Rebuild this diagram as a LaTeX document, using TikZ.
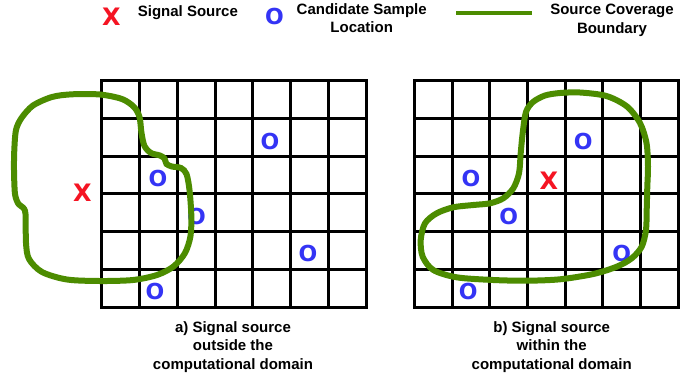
\documentclass[tikz,border=0pt]{standalone}
\usepackage{fontspec}
\setmainfont{Liberation Sans}
\newfontfamily\markfont{DejaVu Sans}
\definecolor{srcred}{RGB}{245,20,35}
\definecolor{sampblue}{RGB}{52,52,245}
\definecolor{covgreen}{RGB}{76,140,0}
\begin{document}
\begin{tikzpicture}[x=1pt,y=-1pt,
  gridline/.style={line width=3pt, line cap=rect},
  boundary/.style={draw=covgreen, line width=6pt},
  srcmark/.style={text=srcred, font=\markfont\bfseries\fontsize{24}{24}\selectfont, inner sep=0},
  sampmark/.style={text=sampblue, font=\markfont\bfseries\fontsize{22}{22}\selectfont, inner sep=0},
  captext/.style={font=\bfseries\fontsize{15}{18.5}\selectfont, align=center, inner sep=0},
]
\fill[white] (0,0) rectangle (697,376);
\useasboundingbox (0,0) rectangle (697,376);

% ---- legend ----
\node[srcmark] (legx) at (111.3,16.7) {X};
\node[captext, anchor=base west] (legxt) at (137.7,16.7) {Signal Source};
\node[sampmark] (lego) at (274.5,16) {O};
\node[captext, anchor=north] (legot) at (361.7,3) {Candidate Sample\\Location};
\coordinate (lgA) at (456,13);
\coordinate (lgB) at (532,13);
\draw[covgreen, line width=4pt] (lgA) -- (lgB);
\node[captext, anchor=north] (leglt) at (612,4) {Source Coverage\\Boundary};

% ---- left grid: source outside the domain ----
\foreach \i in {0,...,7} \draw[gridline] ({101.7+37.8*\i},80.5) -- ({101.7+37.8*\i},307.3);
\foreach \j in {0,...,6} \draw[gridline] (101.7,{80.5+37.8*\j}) -- (366.3,{80.5+37.8*\j});

\node[sampmark] (la1) at (270,141) {O};
\node[sampmark] (la2) at (158,178) {O};
\node[sampmark] (la3) at (196.5,216) {O};
\node[sampmark] (la4) at (308,253) {O};
\node[sampmark] (la5) at (155,291) {O};
\node[srcmark] (lsrc) at (82.3,193) {X};

\draw[boundary] plot[smooth cycle, tension=0.5] coordinates {
  (72,94.3) (100,94.5) (122,99) (134,107) (139.5,117) (141.5,133)
  (144.5,146) (151,153) (160,155.5) (164.5,158.5) (166.5,164) (172,166.5)
  (181,168) (186.5,174) (189.5,190) (191.3,215) (190.5,236) (185,253)
  (173.5,266.5) (157,275) (133,280) (100,281) (67,279.5) (42,272) (29,259)
  (26,243) (25.5,214) (23,207.5) (18.5,204) (15,194) (14,170) (14.3,150)
  (16,130) (21.5,118) (33,105.5) (52,97)};

\node[captext, anchor=north] (capa) at (233,321) {a) Signal source\\outside the\\computational domain};

% ---- right grid: source within the domain ----
\foreach \i in {0,...,7} \draw[gridline] ({414.3+37.7*\i},80.5) -- ({414.3+37.7*\i},307.3);
\foreach \j in {0,...,6} \draw[gridline] (414.3,{80.5+37.8*\j}) -- (678.2,{80.5+37.8*\j});

\node[sampmark] (rb1) at (583.3,141) {O};
\node[sampmark] (rb2) at (471,178) {O};
\node[sampmark] (rb3) at (508.7,216) {O};
\node[sampmark] (rb4) at (621.7,253) {O};
\node[sampmark] (rb5) at (468.3,291) {O};
\node[srcmark] (rsrc) at (548.8,181) {X};

\draw[boundary] plot[smooth cycle, tension=0.5] coordinates {
  (560,93) (580,92.5) (606.5,96) (627,106.5) (640,123) (646.5,143) (648,166.5)
  (647.3,187) (646.7,210) (646,230) (641.7,246.7) (631.7,258.3) (616.7,266.7)
  (593.3,274) (560,279.3) (526.7,280.7) (493.3,280) (456.7,277.3) (433.3,270)
  (422.7,256.7) (420.7,240) (425,223.3) (436.7,213.3) (453.3,207.3) (473.3,205)
  (490,203.3) (503.3,198.3) (513.3,188.3) (519,173.3) (520.7,153.3) (522.7,133)
  (526,112) (533,102) (545,95.5)};

\node[captext, anchor=north] (capb) at (551.7,321) {b) Signal source\\within the\\computational domain};
\end{tikzpicture}
\end{document}
